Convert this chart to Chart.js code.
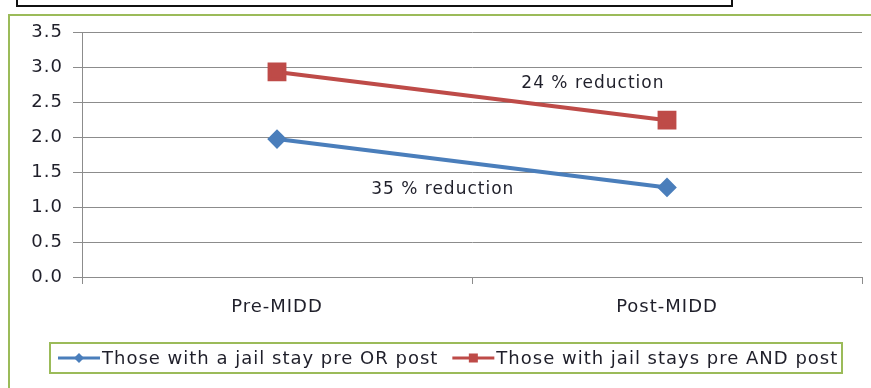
<!DOCTYPE html>
<html>
<head>
<meta charset="utf-8">
<script src="https://cdn.jsdelivr.net/npm/chart.js@4/dist/chart.umd.min.js"></script>
<style>
  html, body { margin: 0; padding: 0; background: #fff; }
  #wrap { position: relative; width: 871px; height: 388px; overflow: hidden; background: #fff; }
  #titleBox { position: absolute; left: 16px; top: -6px; width: 713px; height: 9px; border: 2px solid #111; background: #fff; }
  #frame { position: absolute; left: 8px; top: 14px; width: 900px; height: 420px; border-left: 2px solid #9BBB59; border-top: 2px solid #9BBB59; }
  #chart { position: absolute; left: 0; top: 0; }
</style>
</head>
<body>
<div id="wrap">
  <div id="titleBox"></div>
  <div id="frame"></div>
  <canvas id="chart" width="871" height="388"></canvas>
</div>
<script>
// Categories and series
const categories = ['Pre-MIDD', 'Post-MIDD'];
const orSeries = [1.97, 1.28];   // Those with a jail stay pre OR post
const andSeries = [2.93, 2.24];  // Those with jail stays pre AND post
const seriesNames = ['Those with a jail stay pre OR post', 'Those with jail stays pre AND post'];
const yTicks = [0.0, 0.5, 1.0, 1.5, 2.0, 2.5, 3.0, 3.5];

const BLUE = '#4A7EBB';
const RED = '#BE4B48';
const GREEN = '#9BBB59';
const GRID = '#8C8C8C';
const TEXT = '#1F1F2A';
const FONT = 'DejaVu Sans, Verdana, sans-serif';
const SPACING = '1px';

// Percentage drop between the two periods, written next to each line
function reduction(vals) {
  return Math.round((1 - vals[1] / vals[0]) * 100) + ' % reduction';
}
const notes = [
  { text: reduction(andSeries), xIndex: 0.81, yValue: 2.77 },
  { text: reduction(orSeries), xIndex: 0.425, yValue: 1.255 }
];

// Wide, slightly tracked lettering for every label on the canvas
const spacingPlugin = {
  id: 'spacing',
  beforeUpdate(chart) { chart.ctx.letterSpacing = SPACING; },
  beforeLayout(chart) { chart.ctx.letterSpacing = SPACING; },
  beforeDraw(chart) { chart.ctx.letterSpacing = SPACING; }
};

const notesPlugin = {
  id: 'notes',
  afterDatasetsDraw(chart) {
    const { ctx, scales } = chart;
    ctx.save();
    ctx.font = '17px ' + FONT;
    ctx.letterSpacing = SPACING;
    ctx.fillStyle = TEXT;
    ctx.textAlign = 'center';
    ctx.textBaseline = 'middle';
    notes.forEach(n => {
      ctx.fillText(n.text, scales.x.getPixelForValue(n.xIndex), scales.y.getPixelForValue(n.yValue));
    });
    ctx.restore();
  }
};

// Boxed legend with line + marker swatches
const boxLegendPlugin = {
  id: 'boxLegend',
  afterDraw(chart) {
    const { ctx } = chart;
    const box = { left: 50, top: 343, right: 842, bottom: 373 };
    ctx.save();
    ctx.strokeStyle = GREEN;
    ctx.lineWidth = 2;
    ctx.strokeRect(box.left, box.top, box.right - box.left, box.bottom - box.top);
    ctx.font = '18px ' + FONT;
    ctx.letterSpacing = SPACING;
    ctx.textBaseline = 'middle';
    ctx.fillStyle = TEXT;
    const cy = (box.top + box.bottom) / 2;
    const lineLen = 42;
    let x = box.left + 8;
    chart.data.datasets.forEach((ds, i) => {
      ctx.strokeStyle = ds.borderColor;
      ctx.lineWidth = 3;
      ctx.beginPath();
      ctx.moveTo(x, cy);
      ctx.lineTo(x + lineLen, cy);
      ctx.stroke();
      ctx.fillStyle = ds.borderColor;
      const mx = x + lineLen / 2;
      if (ds.pointStyle === 'rectRot') {
        ctx.beginPath();
        ctx.moveTo(mx, cy - 5); ctx.lineTo(mx + 5, cy); ctx.lineTo(mx, cy + 5); ctx.lineTo(mx - 5, cy);
        ctx.closePath(); ctx.fill();
      } else {
        ctx.fillRect(mx - 4.5, cy - 4.5, 9, 9);
      }
      x += lineLen + 2;
      ctx.fillStyle = TEXT;
      ctx.fillText(ds.label, x, cy + 1);
      x += ctx.measureText(ds.label).width + 14;
    });
    ctx.restore();
  }
};

new Chart(document.getElementById('chart'), {
  type: 'line',
  data: {
    labels: categories,
    datasets: [
      {
        label: seriesNames[0], data: orSeries,
        borderColor: BLUE, backgroundColor: BLUE, borderWidth: 4,
        pointStyle: 'rectRot', pointRadius: 7, pointHoverRadius: 7,
        tension: 0
      },
      {
        label: seriesNames[1], data: andSeries,
        borderColor: RED, backgroundColor: RED, borderWidth: 4,
        pointStyle: 'rect', pointRadius: 10.5, pointHoverRadius: 10.5,
        tension: 0
      }
    ]
  },
  options: {
    responsive: false,
    animation: false,
    events: [],
    layout: { autoPadding: false, padding: { top: 32, right: 9, left: 0, bottom: 0 } },
    plugins: { legend: { display: false }, tooltip: { enabled: false } },
    scales: {
      x: {
        offset: true,
        grid: { offset: true, drawOnChartArea: false, color: GRID, tickLength: 7 },
        border: { color: GRID },
        ticks: { color: TEXT, font: { family: FONT, size: 18 }, padding: 13 },
        afterFit(s) { s.height = 111; s.paddingLeft = 0; s.paddingRight = 0; }
      },
      y: {
        min: 0, max: 3.5,
        afterBuildTicks(s) { s.ticks = yTicks.map(v => ({ value: v })); },
        grid: { color: GRID, tickLength: 9 },
        border: { color: GRID },
        ticks: {
          color: TEXT, font: { family: FONT, size: 18 }, padding: 10,
          callback: v => Number(v).toFixed(1)
        },
        afterFit(s) { s.width = 82; }
      }
    }
  },
  plugins: [spacingPlugin, notesPlugin, boxLegendPlugin]
});
</script>
</body>
</html>
